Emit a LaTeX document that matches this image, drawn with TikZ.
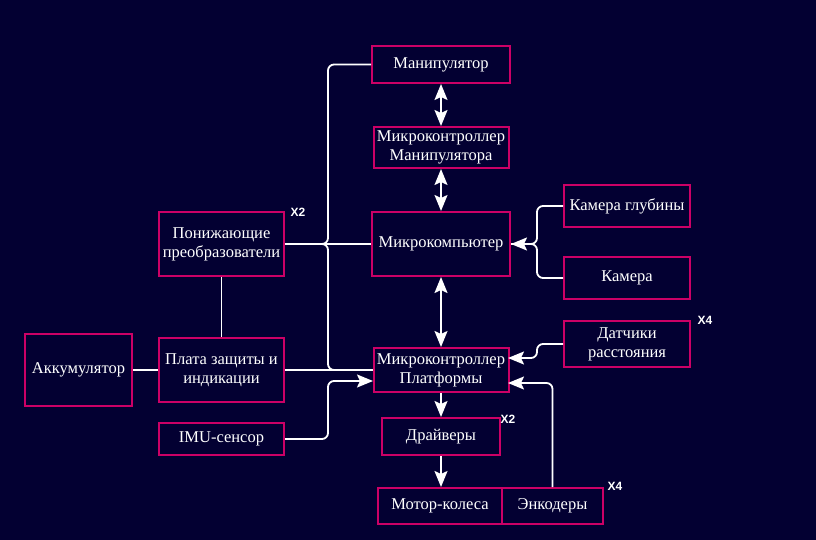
\documentclass[tikz,border=0pt]{standalone}
\usepackage{fontspec}
\setmainfont{Liberation Serif}
\newfontfamily\labelfont{Liberation Sans}
\usetikzlibrary{arrows.meta}
\definecolor{bgnavy}{RGB}{3,0,50}
\definecolor{boxred}{RGB}{204,0,102}
\begin{document}
\begin{tikzpicture}[x=1pt, y=-1pt,
  box/.style={draw=boxred, line width=2pt, fill=bgnavy, text=white, align=center, inner sep=0pt, font=\fontsize{16.5}{19}\selectfont},
  link/.style={draw=white, line width=1.8pt, rounded corners=6pt},
  arr/.style={link, -{Stealth[length=16pt, width=13pt, inset=3pt]}},
  twoarr/.style={link, {Stealth[length=16pt, width=13pt, inset=3pt]}-{Stealth[length=16pt, width=13pt, inset=3pt]}},
  mult/.style={text=white, font=\labelfont\bfseries\fontsize{12}{14}\selectfont}]
\fill[bgnavy] (0,0) rectangle (816,540);
\useasboundingbox (0,0) rectangle (816,540);
% boxes
\node[box, minimum width=138pt, minimum height=37pt] (manip) at (441,64.5) {Манипулятор};
\node[box, minimum width=135pt, minimum height=41pt] (mcmanip) at (441,147.5) {Микроконтроллер\\Манипулятора};
\node[box, minimum width=138pt, minimum height=64pt] (mcomp) at (441,244) {Микрокомпьютер};
\node[box, minimum width=126pt, minimum height=42pt] (depthcam) at (627,206) {Камера глубины};
\node[box, minimum width=126pt, minimum height=42pt] (cam) at (627,278) {Камера};
\node[box, minimum width=126pt, minimum height=46pt] (range) at (627,344) {Датчики\\расстояния};
\node[box, minimum width=125pt, minimum height=64pt] (conv) at (221.5,244) {Понижающие\\преобразователи};
\node[box, minimum width=125pt, minimum height=64pt] (board) at (221.5,370) {Плата защиты и\\индикации};
\node[box, minimum width=107pt, minimum height=72pt] (batt) at (78.5,370) {Аккумулятор};
\node[box, minimum width=125pt, minimum height=32pt] (imu) at (221.5,439) {IMU-сенсор};
\node[box, minimum width=135pt, minimum height=44pt] (mcplat) at (441,370) {Микроконтроллер\\Платформы};
\node[box, minimum width=118pt, minimum height=37pt] (drv) at (441,436.5) {Драйверы};
\node[box, minimum width=124pt, minimum height=36pt] (motor) at (440,506) {Мотор-колеса};
\node[box, minimum width=101pt, minimum height=36pt] (enc) at (552.5,506) {Энкодеры};
% multiplicity labels
\node[mult] (m1) at (298,212) {X2};
\node[mult] (m2) at (705,320) {X4};
\node[mult] (m3) at (508,419) {X2};
\node[mult] (m4) at (615,486) {X4};
% junction points
\coordinate (pj) at (328,244);
\coordinate (ij) at (328,439);
\coordinate (imuin) at (373,381);
\coordinate (cj1) at (537,206);
\coordinate (cj2) at (537,278);
\coordinate (rj) at (537,344);
\coordinate (rangein) at (508,358);
\coordinate (encin) at (508,383);
% power lines
\draw[link] (batt) -- (board);
\draw[link] (conv) -- (board);
\draw[link] (board.east) -- (mcplat.west);
\draw[link] (conv.east) -- (mcomp.west);
\draw[link] (conv.east) -- (pj) |- (manip.west);
\draw[link] (conv.east) -- (pj) |- (mcplat.west);
% data lines
\draw[twoarr] (manip) -- (mcmanip);
\draw[twoarr] (mcmanip) -- (mcomp);
\draw[twoarr] (mcomp) -- (mcplat);
\draw[arr] (depthcam.west) -- (cj1) |- (mcomp.east);
\draw[link] (cam.west) -- (cj2) |- (mcomp.east);
\draw[arr] (range.west) -- (rj) |- (rangein);
\draw[arr] (enc.north) |- (encin);
\draw[arr] (imu.east) -- (ij) |- (imuin);
\draw[arr] (mcplat) -- (drv);
\draw[arr] (drv.south) -- (drv.south |- motor.north);
\end{tikzpicture}
\end{document}
